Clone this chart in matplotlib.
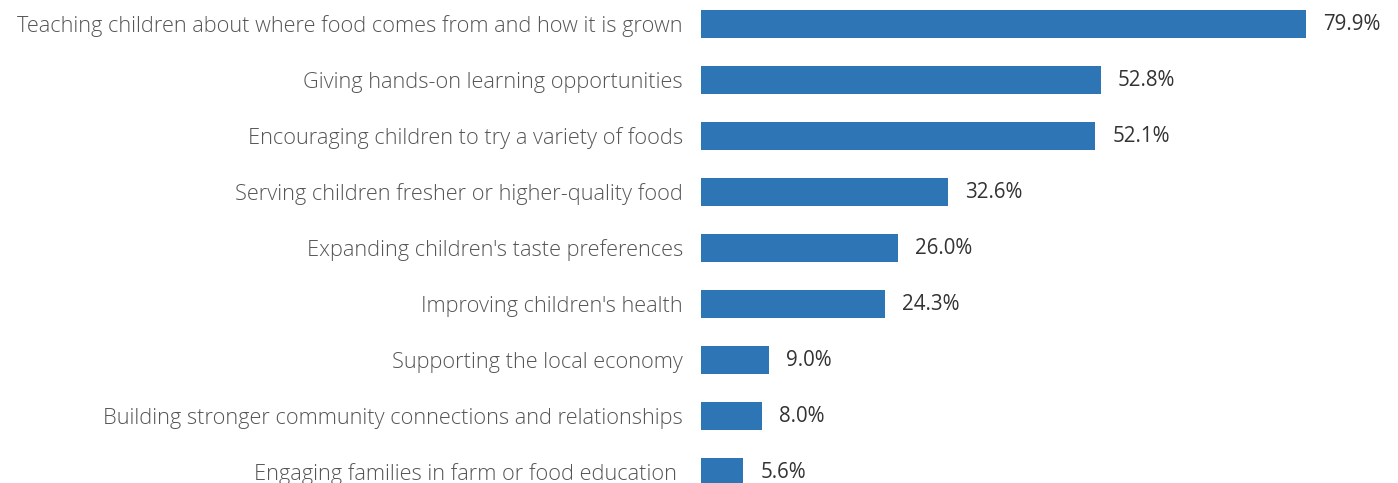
import matplotlib
matplotlib.use("Agg")
import matplotlib.pyplot as plt

categories = [
    "Teaching children about where food comes from and how it is grown",
    "Giving hands-on learning opportunities",
    "Encouraging children to try a variety of foods",
    "Serving children fresher or higher-quality food",
    "Expanding children's taste preferences",
    "Improving children's health",
    "Supporting the local economy",
    "Building stronger community connections and relationships",
    "Engaging families in farm or food education ",
]
values = [79.9, 52.8, 52.1, 32.6, 26.0, 24.3, 9.0, 8.0, 5.6]

BAR_COLOR = "#2E75B6"

fig = plt.figure(figsize=(13.98, 4.83), dpi=100)
ax = fig.add_axes([701 / 1398, 0, 697 / 1398, 1])

pos = list(range(len(categories)))
ax.barh(pos, values, height=0.5, color=BAR_COLOR)

ax.set_xlim(0, 92.1)
ax.set_ylim((483 - 24) / 56, -24 / 56)

ax.set_yticks(pos)
ax.set_yticklabels(categories, family="Open Sans", weight="light",
                   fontsize=15.7, color="#555555")
ax.tick_params(axis="y", length=0, pad=13)
ax.set_xticks([])
for s in ax.spines.values():
    s.set_visible(False)

for p, v in zip(pos, values):
    ax.annotate(f"{v:.1f}%", xy=(v, p), xytext=(17, 0),
                textcoords="offset pixels",
                va="center", ha="left", family="Open Sans",
                fontsize=14.8, color="#333333")

fig.savefig("out.png", dpi=100)
